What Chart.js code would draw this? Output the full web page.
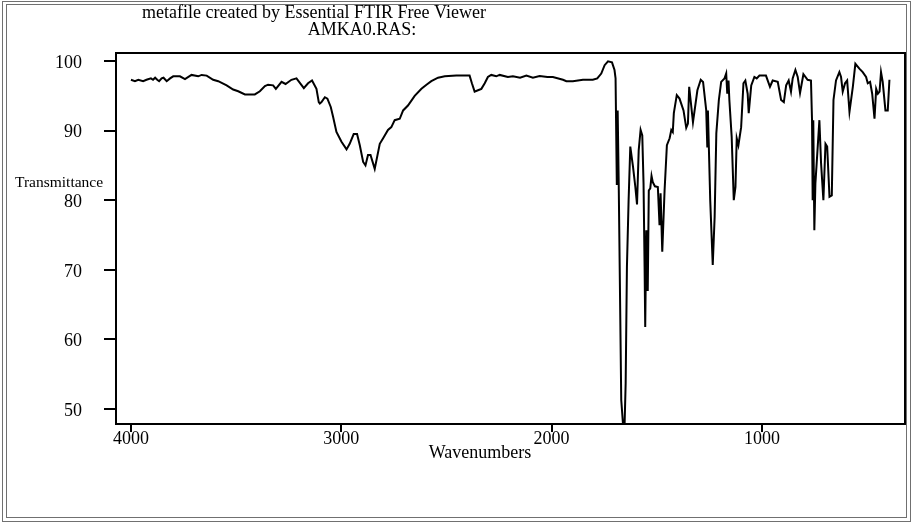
<!DOCTYPE html>
<html>
<head>
<meta charset="utf-8">
<title>AMKA0.RAS</title>
<script src="https://cdn.jsdelivr.net/npm/chart.js@4.4.1/dist/chart.umd.min.js"></script>
<style>
  html, body { margin: 0; padding: 0; background: #ffffff; }
  canvas { display: block; }
</style>
</head>
<body>
<canvas id="spectrum" width="913" height="525"></canvas>
<script>
// Header text and axis titles
const titleLines = ['metafile created by Essential FTIR Free Viewer', 'AMKA0.RAS:'];
const xAxisTitle = 'Wavenumbers';
const yAxisTitle = 'Transmittance';

// Tick values for both axes
const xTickValues = [4000, 3000, 2000, 1000];
const yTickValues = [50, 60, 70, 80, 90, 100];

// IR spectrum: wavenumber (cm-1) and % transmittance
const wavenumbers = [
  4000, 3981, 3965, 3942, 3926, 3905, 3895, 3885, 3875, 3866, 3854, 3845, 3830, 3814, 3799,
  3767, 3743, 3712, 3680, 3664, 3640, 3609, 3585, 3545, 3514, 3490, 3458, 3411, 3387, 3363,
  3348, 3324, 3311, 3284, 3265, 3237, 3213, 3178, 3158, 3139, 3118, 3107, 3102, 3094, 3078,
  3066, 3050, 3039, 3023, 2999, 2975, 2960, 2941, 2925, 2912, 2896, 2885, 2873, 2861, 2841,
  2817, 2801, 2778, 2762, 2746, 2722, 2706, 2683, 2651, 2619, 2595, 2572, 2540, 2508, 2453,
  2390, 2379, 2366, 2350, 2334, 2318, 2303, 2287, 2263, 2247, 2208, 2184, 2150, 2120, 2089,
  2057, 2020, 1994, 1946, 1930, 1899, 1851, 1804, 1783, 1764, 1748, 1732, 1713, 1701, 1696,
  1690, 1686, 1681, 1669, 1661, 1653, 1648, 1642, 1634, 1626, 1613, 1602, 1594, 1586, 1577,
  1569, 1563, 1558, 1555, 1550, 1548, 1543, 1538, 1531, 1525, 1519, 1509, 1495, 1487, 1482,
  1474, 1463, 1452, 1439, 1431, 1424, 1419, 1405, 1392, 1373, 1360, 1352, 1346, 1328, 1307,
  1291, 1280, 1265, 1260, 1257, 1246, 1234, 1225, 1217, 1205, 1194, 1178, 1170, 1165, 1159,
  1155, 1144, 1134, 1126, 1120, 1112, 1099, 1088, 1079, 1068, 1063, 1051, 1036, 1025, 1012,
  981, 962, 949, 925, 909, 896, 885, 873, 862, 854, 841, 830, 819, 803, 783,
  767, 762, 759, 756, 751, 746, 727, 719, 708, 698, 690, 679, 668, 660, 648,
  632, 624, 616, 605, 595, 584, 568, 556, 537, 521, 505, 497, 486, 476, 465,
  457, 449, 441, 434, 426, 413, 402, 394
];
const transmittance = [
  97.3, 97.1, 97.3, 97.1, 97.3, 97.5, 97.3, 97.6, 97.3, 97.1, 97.5, 97.6, 97.1, 97.5, 97.8,
  97.8, 97.4, 98.0, 97.8, 98.0, 97.9, 97.3, 97.1, 96.5, 95.9, 95.65, 95.2, 95.2, 95.65, 96.4,
  96.6, 96.5, 96.0, 97.0, 96.7, 97.3, 97.5, 96.1, 96.8, 97.2, 96.0, 94.1, 93.9, 94.1, 94.8,
  94.6, 93.4, 92.0, 89.8, 88.4, 87.3, 88.1, 89.5, 89.5, 87.9, 85.5, 85.0, 86.5, 86.5, 84.5,
  88.1, 88.9, 90.1, 90.5, 91.5, 91.7, 92.9, 93.6, 95.0, 96.0, 96.6, 97.1, 97.6, 97.8, 97.9,
  97.9, 96.8, 95.6, 95.8, 96.0, 96.8, 97.7, 98.0, 97.8, 98.0, 97.7, 97.8, 97.6, 97.9, 97.6,
  97.85, 97.7, 97.7, 97.3, 97.1, 97.1, 97.3, 97.3, 97.5, 98.2, 99.4, 99.96, 99.8, 98.7, 97.5,
  82.2, 92.9, 82.4, 51.3, 48.0, 47.9, 53.7, 70.4, 80.0, 87.7, 84.8, 81.9, 79.4, 87.2, 90.1,
  89.3, 82.4, 70.4, 61.8, 75.7, 67.1, 67.1, 81.4, 81.7, 83.5, 82.6, 82.0, 81.9, 76.4, 81.0,
  72.6, 81.4, 87.9, 88.9, 90.1, 89.8, 92.5, 95.1, 94.6, 92.9, 90.4, 91.0, 96.3, 91.2, 95.8,
  97.3, 97.0, 92.9, 87.7, 92.9, 80.0, 70.7, 77.6, 89.6, 94.4, 97.0, 97.5, 98.2, 95.3, 97.2,
  94.4, 89.1, 80.0, 81.9, 88.9, 87.9, 90.5, 96.8, 97.2, 95.3, 92.5, 96.5, 97.7, 97.5, 97.9,
  97.9, 96.3, 97.2, 97.0, 94.4, 94.1, 96.5, 97.2, 95.6, 97.5, 98.7, 97.7, 95.4, 98.1, 97.3,
  97.2, 91.5, 80.0, 91.5, 75.7, 82.4, 91.5, 85.3, 80.0, 88.1, 87.7, 80.5, 80.7, 94.4, 97.2,
  98.4, 97.7, 95.6, 96.8, 97.2, 92.7, 96.3, 99.6, 98.9, 98.4, 97.7, 96.8, 97.0, 95.3, 91.7,
  96.0, 95.3, 95.6, 98.4, 97.0, 92.9, 92.9, 97.3
];

const SERIF = '"Liberation Serif", "Times New Roman", Times, serif';

// Window frame, plot box and free-standing labels
const frameAndLabels = {
  id: 'frameAndLabels',
  beforeDraw(chart) {
    const ctx = chart.ctx;
    ctx.save();
    ctx.fillStyle = '#ffffff';
    ctx.fillRect(0, 0, chart.width, chart.height);
    ctx.strokeStyle = '#707070';
    ctx.lineWidth = 1;
    ctx.strokeRect(2.5, 1.5, 908, 520);
    ctx.strokeRect(6.5, 4.5, 900, 513);
    ctx.restore();
  },
  afterDraw(chart) {
    const ctx = chart.ctx;
    const a = chart.chartArea;
    ctx.save();
    ctx.strokeStyle = '#000000';
    ctx.lineWidth = 2;
    ctx.strokeRect(a.left, a.top, a.right - a.left, a.bottom - a.top);

    ctx.fillStyle = '#000000';
    ctx.textBaseline = 'alphabetic';
    ctx.font = '18px ' + SERIF;
    ctx.textAlign = 'center';
    ctx.fillText(titleLines[0], 314, 18);
    ctx.fillText(titleLines[1], 362, 35);
    ctx.fillText(xAxisTitle, 480, 458);

    ctx.font = '15.5px ' + SERIF;
    ctx.textAlign = 'left';
    ctx.fillText(yAxisTitle, 15, 187);
    ctx.restore();
  }
};

const points = wavenumbers.map((w, i) => ({ x: w, y: transmittance[i] }));

new Chart(document.getElementById('spectrum'), {
  type: 'line',
  data: {
    datasets: [{
      data: points,
      borderColor: '#000000',
      borderWidth: 2,
      pointRadius: 0,
      tension: 0,
      fill: false
    }]
  },
  options: {
    responsive: false,
    animation: false,
    devicePixelRatio: 1,
    layout: { padding: { top: 53, right: 8, bottom: 0, left: 0 } },
    plugins: {
      legend: { display: false },
      tooltip: { enabled: false },
      title: { display: false }
    },
    scales: {
      x: {
        type: 'linear',
        reverse: true,
        min: 320,
        max: 4071,
        afterBuildTicks: s => { s.ticks = xTickValues.map(v => ({ value: v })); },
        afterFit: s => { s.height = 101; },
        border: { display: false },
        grid: {
          display: true,
          drawOnChartArea: false,
          drawTicks: true,
          tickLength: 8,
          lineWidth: 2,
          color: '#000000'
        },
        ticks: {
          color: '#000000',
          font: { family: SERIF, size: 18, lineHeight: 1 },
          padding: -2,
          maxRotation: 0,
          autoSkip: false,
          callback: v => String(v)
        }
      },
      y: {
        type: 'linear',
        min: 47.85,
        max: 101.15,
        afterBuildTicks: s => { s.ticks = yTickValues.map(v => ({ value: v })); },
        afterFit: s => { s.width = 116; },
        border: { display: false },
        grid: {
          display: true,
          drawOnChartArea: false,
          drawTicks: true,
          tickLength: 12,
          lineWidth: 2,
          color: '#000000'
        },
        ticks: {
          color: '#000000',
          font: { family: SERIF, size: 18, lineHeight: 1 },
          padding: 22,
          labelOffset: 2,
          autoSkip: false,
          callback: v => String(v)
        }
      }
    }
  },
  plugins: [frameAndLabels]
});
</script>
</body>
</html>
